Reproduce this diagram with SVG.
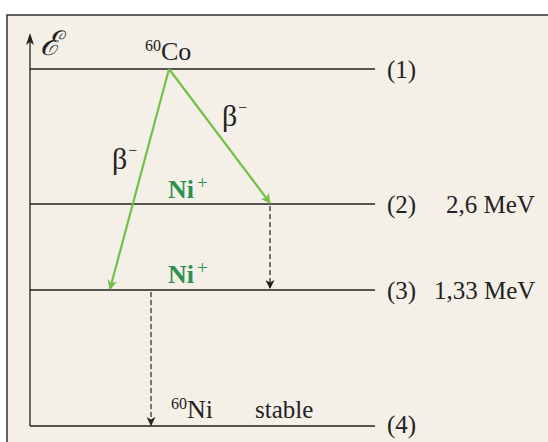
<svg xmlns="http://www.w3.org/2000/svg" width="548" height="442" viewBox="0 0 548 442">
<style>
.t{font-family:"Liberation Serif","DejaVu Serif",serif;font-size:25px;fill:#222}
.b{font-size:26px}
.s{font-size:16px}
.g{font-family:"Liberation Serif","DejaVu Serif",serif;font-size:26px;font-weight:bold;fill:#2f8f4f}
.p{font-size:19px;font-weight:normal}
.lvl{stroke:#222;stroke-width:1.3}
.gr{stroke:#72c047;stroke-width:2.2;fill:none}
.ds{stroke:#222;stroke-width:1.2;stroke-dasharray:5,3;fill:none}
.be{font-size:30px}
.m{font-size:16px}
</style>
<defs>
<marker id="ga" viewBox="0 0 10 10" refX="9" refY="5" markerWidth="10" markerHeight="10" markerUnits="userSpaceOnUse" orient="auto"><path d="M0,0 L10,5 L0,10 L3,5 Z" fill="#72c047"/></marker>
<marker id="ba" viewBox="0 0 10 10" refX="9" refY="5" markerWidth="9" markerHeight="9" markerUnits="userSpaceOnUse" orient="auto"><path d="M0,0 L10,5 L0,10 L3,5 Z" fill="#222"/></marker>
</defs>
<rect x="0" y="0" width="548" height="442" fill="#f4f0e8"/>
<rect x="0" y="0" width="548" height="14" fill="#ffffff"/>
<rect x="0" y="0" width="6" height="442" fill="#ffffff"/>
<path d="M7,442 V15 H548" stroke="#333" stroke-width="1.5" fill="none"/>
<g id="axis">
<line x1="30" y1="426" x2="30" y2="38" stroke="#222" stroke-width="1.3"/>
<path d="M30,33 L34,45 L30,42 L26,45 Z" fill="#222"/>
<text class="t" x="40" y="55" style="font-size:34px;font-style:italic">ℰ</text>
</g>
<g id="level1"><line class="lvl" x1="30" y1="69" x2="375" y2="69"/><text class="t" x="387" y="78">(1)</text>
<text class="t" x="145" y="60"><tspan class="s" dy="-9">60</tspan><tspan class="b" dy="9">Co</tspan></text></g>
<g id="level2"><line class="lvl" x1="30" y1="204" x2="375" y2="204"/><text class="t" x="387" y="213">(2)</text><text class="t" x="446" y="213">2,6 MeV</text></g>
<g id="level3"><line class="lvl" x1="30" y1="290" x2="375" y2="290"/><text class="t" x="387" y="299">(3)</text><text class="t" x="434" y="299">1,33 MeV</text></g>
<g id="level4"><line class="lvl" x1="30" y1="426" x2="375" y2="426"/><text class="t" x="387" y="433">(4)</text>
<text class="t" x="171" y="418"><tspan class="s" dy="-9">60</tspan><tspan class="b" dy="9">Ni</tspan></text><text class="t" x="255" y="418">stable</text></g>
<g id="ni2"><text class="g" x="168" y="198">Ni<tspan class="p" dx="3" dy="-9">+</tspan></text></g>
<g id="ni3"><text class="g" x="168" y="283">Ni<tspan class="p" dx="3" dy="-9">+</tspan></text></g>
<g id="connectors">
<line class="gr" x1="169" y1="69" x2="110" y2="289" marker-end="url(#ga)"/>
<line class="gr" x1="169" y1="69" x2="270" y2="203" marker-end="url(#ga)"/>
<line class="ds" x1="270" y1="206" x2="270" y2="288" marker-end="url(#ba)"/>
<line class="ds" x1="151" y1="292" x2="151" y2="425" marker-end="url(#ba)"/>
<text class="t be" x="112" y="169">β<tspan class="m" dx="1" dy="-13">−</tspan></text>
<text class="t be" x="222" y="126">β<tspan class="m" dx="1" dy="-13">−</tspan></text>
</g>
</svg>
